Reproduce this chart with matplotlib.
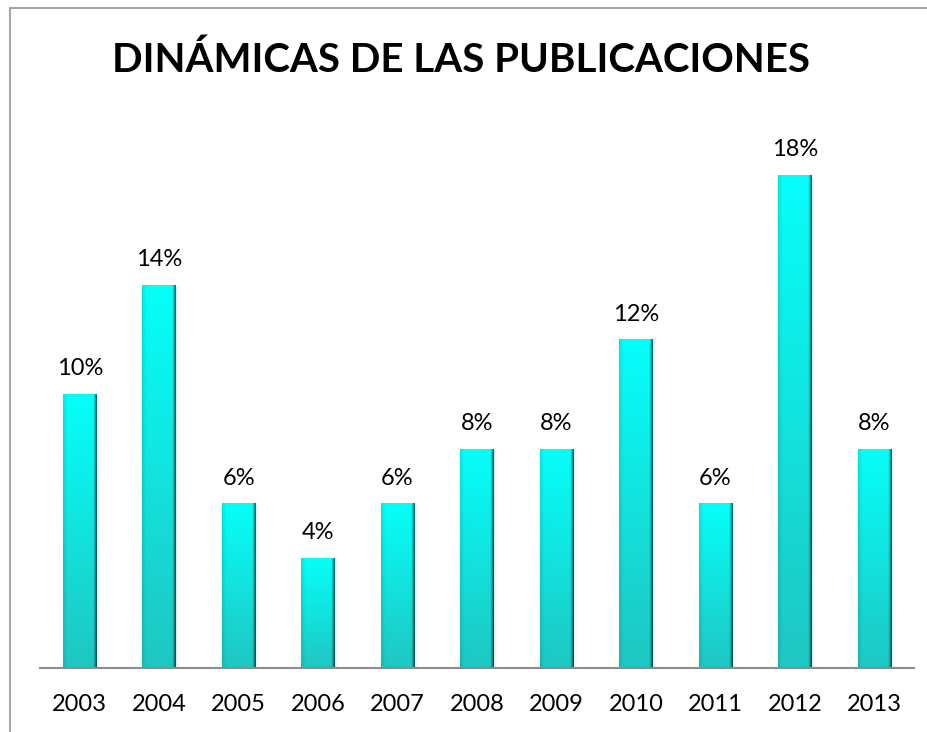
import matplotlib
matplotlib.use("Agg")
import matplotlib.pyplot as plt
import numpy as np
from matplotlib.patches import Rectangle

years = ["2003", "2004", "2005", "2006", "2007", "2008", "2009", "2010", "2011", "2012", "2013"]
values = [10, 14, 6, 4, 6, 8, 8, 12, 6, 18, 8]
labels = ["10%", "14%", "6%", "4%", "6%", "8%", "8%", "12%", "6%", "18%", "8%"]
title = "DINÁMICAS DE LAS PUBLICACIONES"

W, H = 928, 732
fig = plt.figure(figsize=(W / 100, H / 100), dpi=100)
fig.patch.set_facecolor("white")

# chart border (extends beyond the image right/bottom)
fig.patches.append(Rectangle((10 / W, -20 / H), (W + 20) / W, (H - 8 + 20) / H,
                             transform=fig.transFigure, fill=False,
                             edgecolor="#a6a6a6", linewidth=1.5))

ax = fig.add_axes([40 / W, (H - 668) / H, 874 / W, (668 - 121) / H])
x = np.arange(len(years))
bars = ax.bar(x, values, width=0.42, color="#00e8e4", zorder=2)
ax.set_xlim(-0.5, len(years) - 0.5)
ax.set_ylim(0, 20)

# gradient fill for each bar
ny, nx = 200, 40
t = np.linspace(0, 1, ny)[:, None]          # 0 top -> 1 bottom
top = np.array([0.02, 1.0, 0.98])
bot = np.array([0.12, 0.78, 0.76])
vert = top[None, None, :] * (1 - t[..., None]) + bot[None, None, :] * t[..., None]
u = np.linspace(0, 1, nx)[None, :]
shade = 1 - 0.10 * np.clip((0.12 - u) / 0.12, 0, 1) - 0.60 * np.clip((u - 0.91) / 0.09, 0, 1)
img = np.clip(vert * shade[..., None], 0, 1)
for b in bars:
    x0, w, h = b.get_x(), b.get_width(), b.get_height()
    # soft shadow
    for k, a in enumerate([0.10, 0.07, 0.04]):
        ax.add_patch(Rectangle((x0 + w * (0.03 + 0.04 * k), 0), w, h * 0.995,
                               facecolor="#808080", alpha=a, edgecolor="none", zorder=1))
    b.set_facecolor("none")
    ax.imshow(img, extent=(x0, x0 + w, 0, h), aspect="auto", zorder=3,
              interpolation="bilinear")
ax.set_xlim(-0.5, len(years) - 0.5)
ax.set_ylim(0, 20)

for b, lab in zip(bars, labels):
    ax.annotate(lab, (b.get_x() + b.get_width() / 2, b.get_height()),
                xytext=(0, 11), textcoords="offset points", ha="center", va="bottom",
                fontsize=17, family="Lato", color="#000000")

for s in ["top", "right", "left"]:
    ax.spines[s].set_visible(False)
ax.spines["bottom"].set_color("#8c8c8c")
ax.spines["bottom"].set_linewidth(1.5)
ax.spines["bottom"].set_zorder(5)
ax.set_yticks([])
ax.set_xticks(x)
ax.set_xticklabels(years, fontsize=17, family="Lato")
ax.tick_params(axis="x", length=0, pad=19)

fig.text(0.497, (H - 60) / H, title, ha="center", va="center",
         fontsize=29, fontweight="bold", family="Lato")

fig.savefig("out.png", dpi=100)
